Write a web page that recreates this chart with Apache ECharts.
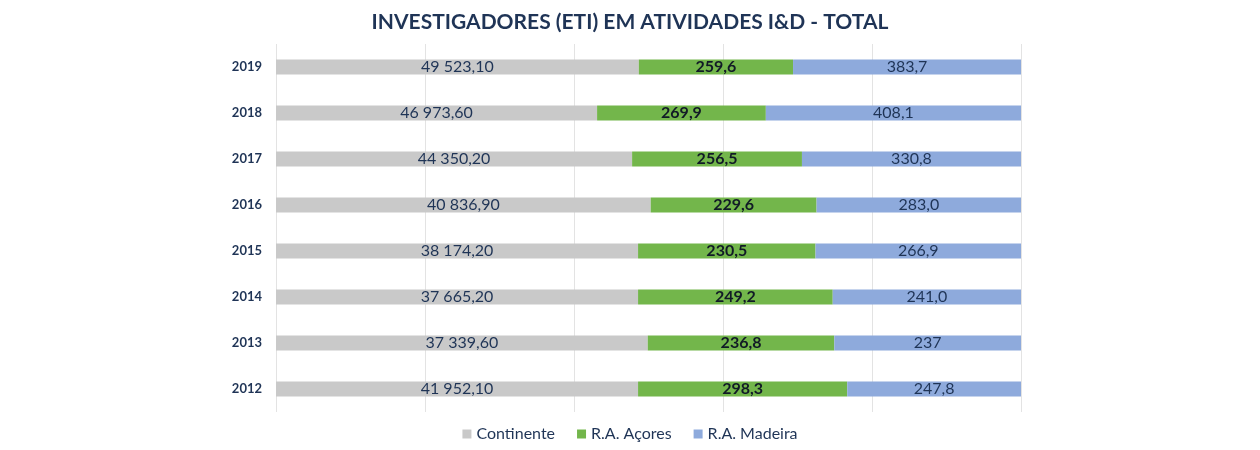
<!DOCTYPE html>
<html>
<head>
<meta charset="utf-8">
<script src="https://cdn.jsdelivr.net/npm/echarts@6/dist/echarts.min.js"></script>
<style>
html,body{margin:0;padding:0;background:#fff;}
#c{width:1260px;height:450px;}
</style>
</head>
<body>
<div id="c"></div>
<script>
var years = ['2012','2013','2014','2015','2016','2017','2018','2019'];
var continente = [41952.10, 37339.60, 37665.20, 38174.20, 40836.90, 44350.20, 46973.60, 49523.10];
var acores = [298.3, 236.8, 249.2, 230.5, 229.6, 256.5, 269.9, 259.6];
var madeira = [247.8, 237, 241.0, 266.9, 283.0, 330.8, 408.1, 383.7];
var continenteLabels = ['41 952,10','37 339,60','37 665,20','38 174,20','40 836,90','44 350,20','46 973,60','49 523,10'];
var acoresLabels = ['298,3','236,8','249,2','230,5','229,6','256,5','269,9','259,6'];
var madeiraLabels = ['247,8','237','241,0','266,9','283,0','330,8','408,1','383,7'];
// share of the bar length taken by Continente, in %
var continenteShare = [48.6, 49.9, 48.6, 48.6, 50.3, 47.8, 43.1, 48.7];
var xTicks = [0, 20, 40, 60, 80, 100];

var contBar = [], acBar = [], madBar = [];
for (var i = 0; i < years.length; i++) {
  var rest = 100 - continenteShare[i];
  var sum = acores[i] + madeira[i];
  contBar.push(continenteShare[i]);
  acBar.push(rest * acores[i] / sum);
  madBar.push(rest * madeira[i] / sum);
}
var navy = '#1f3456';
var chart = echarts.init(document.getElementById('c'));
chart.setOption({
  animation: false,
  title: {
    text: 'INVESTIGADORES (ETI) EM ATIVIDADES I&D - TOTAL',
    left: 'center', top: 7,
    textStyle: {fontFamily: 'Lato', fontWeight: 'bold', fontSize: 21, color: navy}
  },
  legend: {
    bottom: 3, left: 'center',
    itemWidth: 9, itemHeight: 9, itemGap: 22,
    icon: 'rect',
    textStyle: {fontFamily: 'Lato', fontSize: 16, color: navy},
    data: ['Continente', 'R.A. Açores', 'R.A. Madeira']
  },
  grid: {left: 276, right: 239, top: 44, bottom: 38},
  xAxis: {
    type: 'value', min: xTicks[0], max: xTicks[xTicks.length - 1], interval: 20,
    axisLabel: {show: false}, axisLine: {show: false}, axisTick: {show: false},
    splitLine: {lineStyle: {color: '#e3e3e3', width: 1}}
  },
  yAxis: {
    type: 'category', data: years,
    axisLine: {show: false}, axisTick: {show: false},
    axisLabel: {fontFamily: 'Lato', fontSize: 13, fontWeight: 'bold', color: navy, margin: 14}
  },
  series: [
    {
      name: 'Continente', type: 'bar', stack: 't', barWidth: 15, data: contBar,
      itemStyle: {color: '#c9c9c9'},
      label: {show: true, position: 'inside', fontFamily: 'Lato', fontSize: 16, color: navy,
        formatter: function (p) { return continenteLabels[p.dataIndex]; }}
    },
    {
      name: 'R.A. Açores', type: 'bar', stack: 't', barWidth: 15, data: acBar,
      itemStyle: {color: '#73b64b'},
      label: {show: true, position: 'inside', fontFamily: 'Lato', fontSize: 16, fontWeight: 'bold', color: '#111a26',
        formatter: function (p) { return acoresLabels[p.dataIndex]; }}
    },
    {
      name: 'R.A. Madeira', type: 'bar', stack: 't', barWidth: 15, data: madBar,
      itemStyle: {color: '#8eaadc'},
      label: {show: true, position: 'inside', fontFamily: 'Lato', fontSize: 16, color: navy,
        formatter: function (p) { return madeiraLabels[p.dataIndex]; }}
    }
  ]
});
</script>
</body>
</html>
